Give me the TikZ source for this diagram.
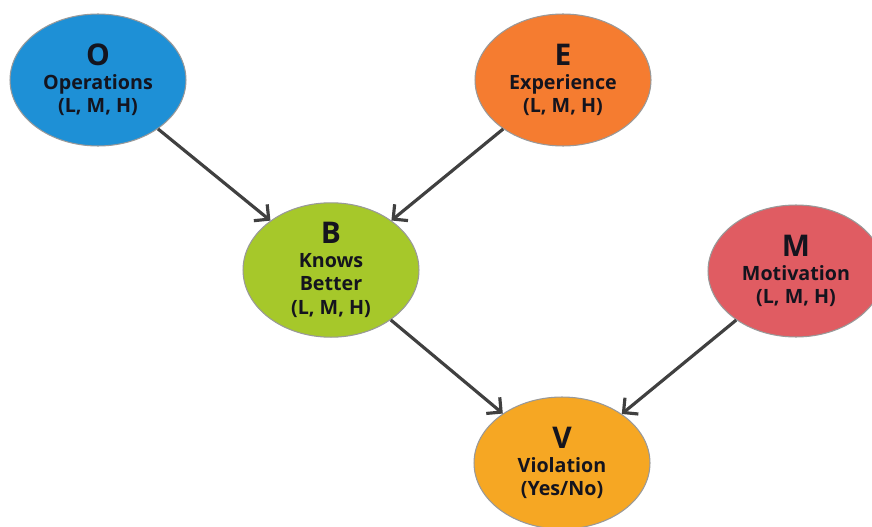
\documentclass[tikz,border=0pt]{standalone}
\usepackage{fontspec}
\setmainfont{Open Sans}
\usetikzlibrary{shapes.geometric,arrows.meta}

\definecolor{opblue}{RGB}{30,144,214}
\definecolor{exorange}{RGB}{245,124,48}
\definecolor{kbgreen}{RGB}{166,200,42}
\definecolor{mored}{RGB}{224,92,98}
\definecolor{viyellow}{RGB}{246,167,35}
\definecolor{edgegray}{RGB}{64,64,64}
\definecolor{labelink}{RGB}{20,20,30}

\tikzset{
	var/.style={ellipse, draw=gray!80, line width=0.6pt, minimum width=3.52cm,
		minimum height=2.64cm, inner sep=0pt, align=center, text=labelink,
		font=\bfseries\fontsize{11.2}{13.4}\selectfont},
	link/.style={-{Straight Barb[length=6pt,width=12pt]}, line width=1.8pt, draw=edgegray}
}
\newcommand{\varletter}[1]{{\fontsize{17}{19}\selectfont #1}}

\begin{document}
\begin{tikzpicture}[x=0.02cm,y=-0.02cm]
\useasboundingbox (0,0) rectangle (872,527);

\node[var, fill=opblue] (O) at (98,80) {\varletter{O}\\Operations\\(L, M, H)};
\node[var, fill=exorange] (E) at (563,80) {\varletter{E}\\Experience\\(L, M, H)};
\node[var, fill=kbgreen] (B) at (331,270) {\varletter{B}\\Knows\\Better\\(L, M, H)};
\node[var, fill=mored] (M) at (796,271) {\varletter{M}\\Motivation\\(L, M, H)};
\node[var, fill=viyellow] (V) at (562,463) {\varletter{V}\\Violation\\(Yes/No)};

\draw[link] (O) -- (B);
\draw[link] (E) -- (B);
\draw[link] (B) -- (V);
\draw[link] (M) -- (V);
\end{tikzpicture}
\end{document}
